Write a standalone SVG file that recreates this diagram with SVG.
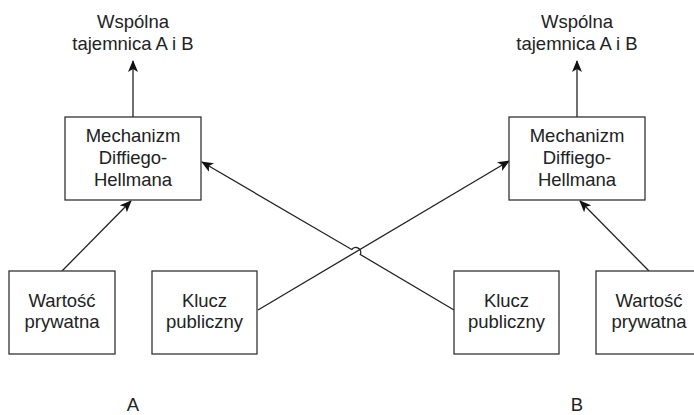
<svg xmlns="http://www.w3.org/2000/svg" width="694" height="415" viewBox="0 0 694 415">
<style>
.box{fill:#fff;stroke:#333;stroke-width:1.3}
.t{font-family:"Liberation Sans",Arial,sans-serif;font-size:18.5px;fill:#222;text-anchor:middle}
.c{fill:none;stroke:#222;stroke-width:1.3}
</style>
<defs>
<marker id="ah" viewBox="0 0 12 10" refX="11" refY="5" markerWidth="12" markerHeight="10" markerUnits="userSpaceOnUse" orient="auto">
<path d="M0,0 L12,5 L0,10 L3,5 Z" fill="#111"/>
</marker>
</defs>
<g id="connectors">
<line class="c" x1="133" y1="117" x2="133" y2="61" marker-end="url(#ah)"/>
<line class="c" x1="577" y1="117" x2="577" y2="61" marker-end="url(#ah)"/>
<line class="c" x1="62" y1="271" x2="131" y2="201" marker-end="url(#ah)"/>
<line class="c" x1="649" y1="271" x2="580" y2="201" marker-end="url(#ah)"/>
<line class="c" x1="258" y1="310" x2="509" y2="161" marker-end="url(#ah)"/>
<path class="c" d="M454,310 L360.3,254.5 A5,5 0 0 0 351.7,249.5 L202,162" marker-end="url(#ah)"/>
</g>
<g id="out-a"><text class="t" x="133" y="28">Wspólna</text><text class="t" x="133" y="50">tajemnica A i B</text></g>
<g id="out-b"><text class="t" x="577" y="28">Wspólna</text><text class="t" x="577" y="50">tajemnica A i B</text></g>
<g id="dh-a"><rect class="box" x="65" y="117" width="136" height="83"/>
<text class="t" x="133" y="142">Mechanizm</text><text class="t" x="133" y="164">Diffiego-</text><text class="t" x="133" y="186">Hellmana</text></g>
<g id="dh-b"><rect class="box" x="509" y="117" width="136" height="83"/>
<text class="t" x="577" y="142">Mechanizm</text><text class="t" x="577" y="164">Diffiego-</text><text class="t" x="577" y="186">Hellmana</text></g>
<g id="priv-a"><rect class="box" x="9" y="271" width="106" height="83"/>
<text class="t" x="62" y="307">Wartość</text><text class="t" x="62" y="328">prywatna</text></g>
<g id="pub-a"><rect class="box" x="152" y="271" width="105" height="83"/>
<text class="t" x="204.5" y="307">Klucz</text><text class="t" x="204.5" y="328">publiczny</text></g>
<g id="pub-b"><rect class="box" x="454" y="271" width="105" height="83"/>
<text class="t" x="506.5" y="307">Klucz</text><text class="t" x="506.5" y="328">publiczny</text></g>
<g id="priv-b"><rect class="box" x="596" y="271" width="106" height="83"/>
<text class="t" x="649" y="307">Wartość</text><text class="t" x="649" y="328">prywatna</text></g>
<g id="label-a"><text class="t" x="133" y="411">A</text></g>
<g id="label-b"><text class="t" x="577" y="411">B</text></g>
</svg>
